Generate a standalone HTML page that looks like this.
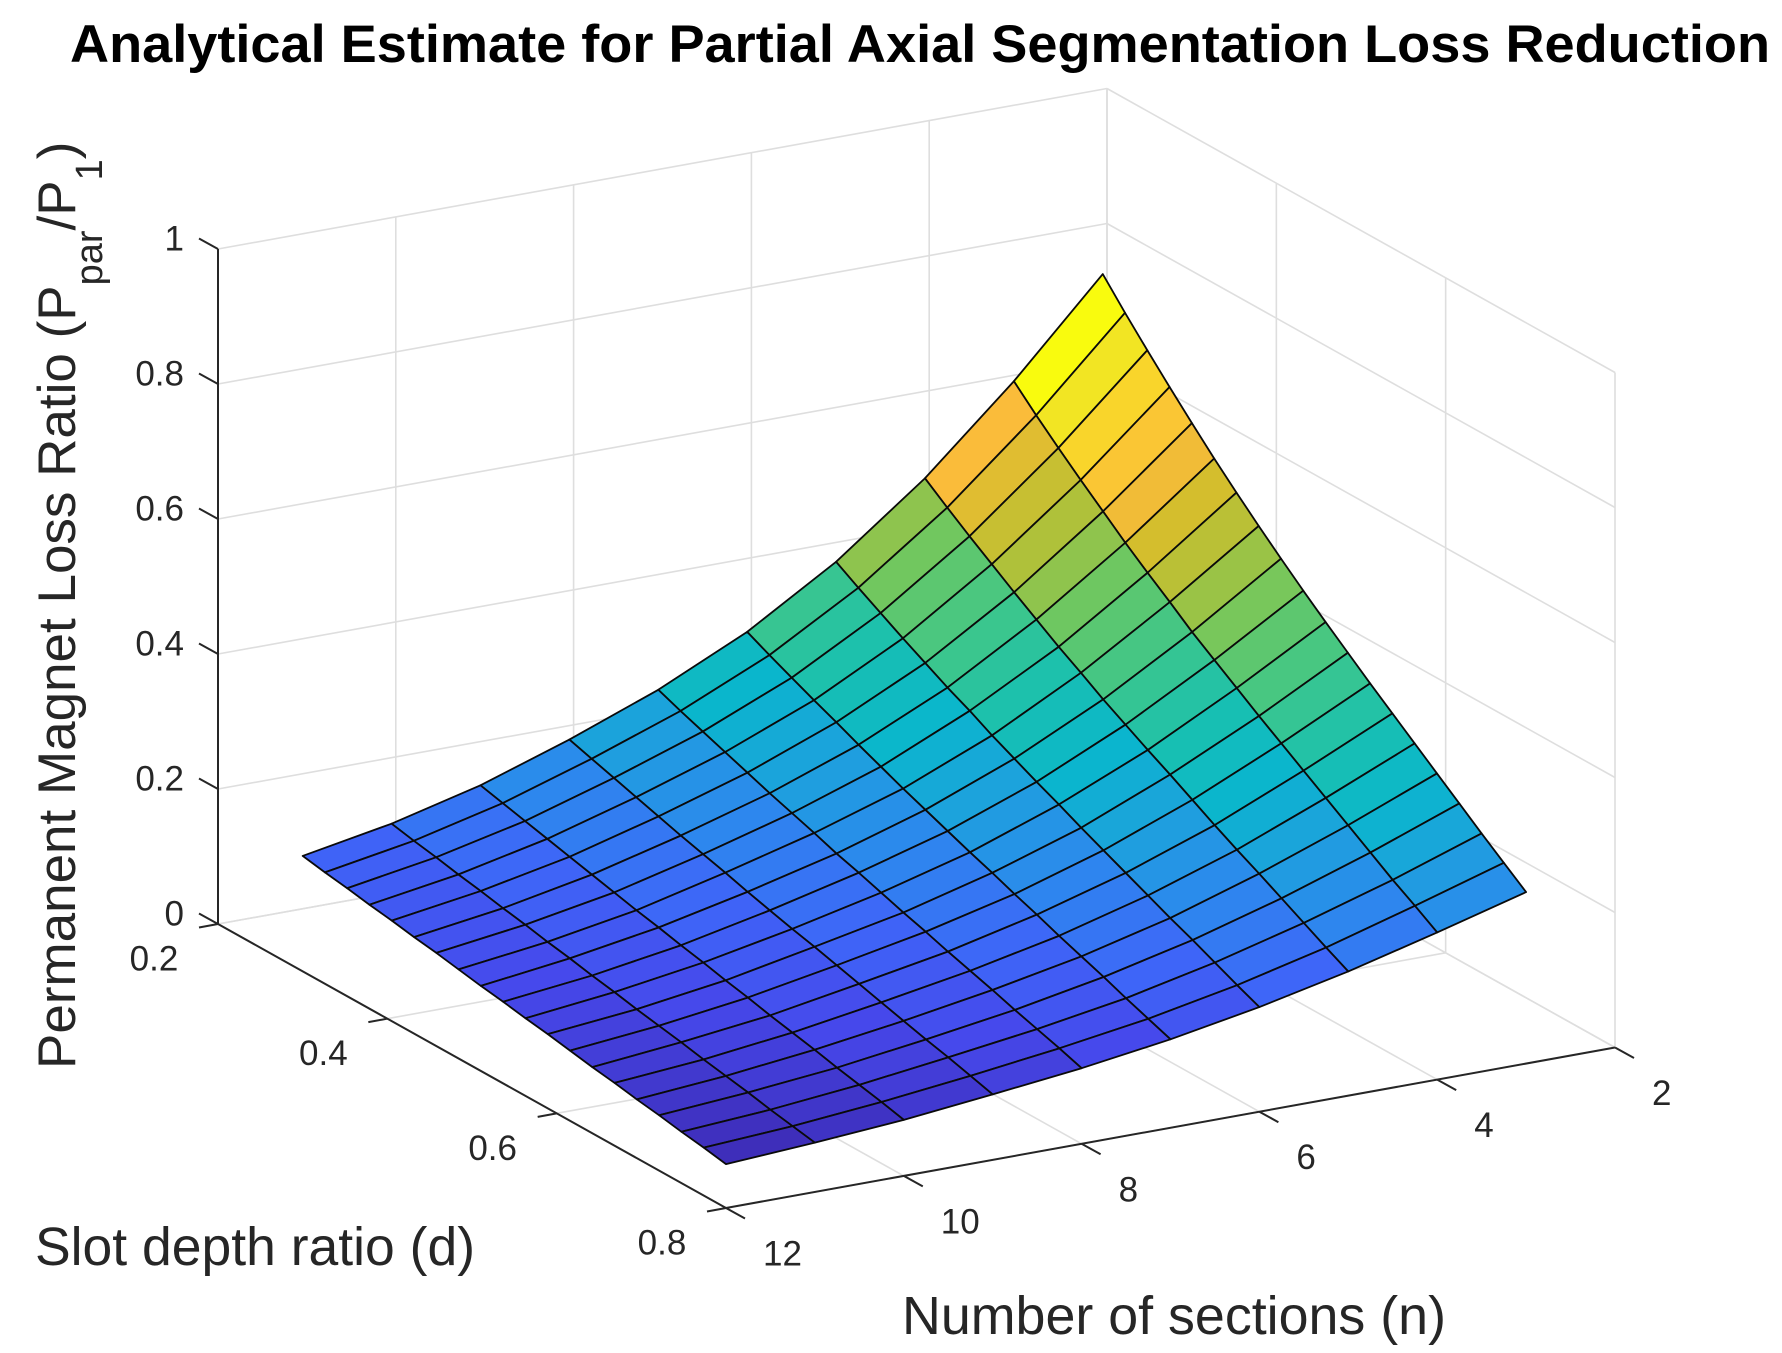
<!DOCTYPE html>
<html>
<head>
<meta charset="utf-8">
<style>
  html, body { margin: 0; padding: 0; background: #ffffff; }
  svg { display: block; }
  text { font-family: "Liberation Sans", "DejaVu Sans", sans-serif; fill: #262626; }
</style>
</head>
<body>
<svg id="chart" xmlns="http://www.w3.org/2000/svg" width="1782" height="1353" viewBox="0 0 1782 1353">
  <rect x="0" y="0" width="1782" height="1353" fill="#ffffff"/>
  <g id="grid"></g>
  <g id="surface"></g>
  <g id="axes"></g>
  <text x="70" y="62" font-size="53" font-weight="bold" style="fill:#000" textLength="1700" lengthAdjust="spacingAndGlyphs">Analytical Estimate for Partial Axial Segmentation Loss Reduction</text>
  <text x="35" y="1265" font-size="54" textLength="440" lengthAdjust="spacingAndGlyphs">Slot depth ratio (d)</text>
  <text x="902" y="1334" font-size="54" textLength="544" lengthAdjust="spacingAndGlyphs">Number of sections (n)</text>
  <text transform="translate(75,1069) rotate(-90)" x="0" y="0" font-size="53">Permanent Magnet Loss Ratio (P<tspan font-size="38" dy="27">par</tspan><tspan dy="-27">/P</tspan><tspan font-size="38" dy="27">1</tspan><tspan dy="-27">)</tspan></text>
</svg>
<script>
// ---- data ----
const nVals = [3, 4, 5, 6, 7, 8, 9, 10, 11, 12];
const dVals = [0.3, 0.3263, 0.3526, 0.3789, 0.4053, 0.4316, 0.4579, 0.4842, 0.5105, 0.5368,
               0.5632, 0.5895, 0.6158, 0.6421, 0.6684, 0.6947, 0.7211, 0.7474, 0.7737, 0.8];
// rows: d, columns: n
const zMatrix = [
  [0.819, 0.684, 0.564, 0.464, 0.384, 0.322, 0.272, 0.228, 0.195, 0.171],
  [0.780, 0.652, 0.539, 0.444, 0.368, 0.309, 0.262, 0.220, 0.188, 0.165],
  [0.743, 0.622, 0.515, 0.425, 0.353, 0.297, 0.252, 0.212, 0.182, 0.160],
  [0.707, 0.593, 0.492, 0.406, 0.338, 0.285, 0.242, 0.204, 0.175, 0.154],
  [0.672, 0.565, 0.469, 0.388, 0.324, 0.273, 0.232, 0.196, 0.169, 0.149],
  [0.638, 0.537, 0.447, 0.370, 0.309, 0.261, 0.222, 0.188, 0.162, 0.143],
  [0.606, 0.511, 0.425, 0.354, 0.295, 0.250, 0.213, 0.180, 0.156, 0.138],
  [0.575, 0.486, 0.405, 0.336, 0.281, 0.239, 0.204, 0.172, 0.149, 0.132],
  [0.545, 0.460, 0.384, 0.320, 0.268, 0.227, 0.194, 0.165, 0.143, 0.126],
  [0.516, 0.437, 0.365, 0.304, 0.255, 0.217, 0.185, 0.157, 0.136, 0.121],
  [0.488, 0.414, 0.346, 0.289, 0.242, 0.206, 0.176, 0.150, 0.130, 0.115],
  [0.461, 0.391, 0.328, 0.273, 0.230, 0.195, 0.168, 0.142, 0.123, 0.110],
  [0.434, 0.369, 0.309, 0.258, 0.217, 0.185, 0.159, 0.135, 0.117, 0.104],
  [0.408, 0.347, 0.290, 0.243, 0.205, 0.174, 0.150, 0.127, 0.111, 0.098],
  [0.382, 0.325, 0.272, 0.228, 0.192, 0.164, 0.141, 0.120, 0.104, 0.093],
  [0.356, 0.303, 0.255, 0.213, 0.180, 0.154, 0.132, 0.113, 0.098, 0.087],
  [0.330, 0.281, 0.237, 0.199, 0.168, 0.143, 0.123, 0.105, 0.092, 0.082],
  [0.304, 0.259, 0.219, 0.184, 0.155, 0.133, 0.115, 0.098, 0.085, 0.076],
  [0.279, 0.239, 0.201, 0.169, 0.143, 0.123, 0.106, 0.091, 0.079, 0.071],
  [0.254, 0.218, 0.184, 0.155, 0.131, 0.112, 0.097, 0.083, 0.073, 0.065]
];
const nTicks = [2, 4, 6, 8, 10, 12];
const nTickLabels = ["2", "4", "6", "8", "10", "12"];
const dTicks = [0.2, 0.4, 0.6, 0.8];
const dTickLabels = ["0.2", "0.4", "0.6", "0.8"];
const zTicks = [0, 0.2, 0.4, 0.6, 0.8, 1];
const zTickLabels = ["0", "0.2", "0.4", "0.6", "0.8", "1"];

// ---- axis / projection functions ----
const N_MIN = 2, N_MAX = 12, D_MIN = 0.2, D_MAX = 0.8, Z_MIN = 0, Z_MAX = 1;
const ORIGIN_X = 218, ORIGIN_Y = 924;
const D_VEC = [508, 284];
const N_VEC = [889, -160.5];
const Z_LEN = 675;
function projX(n, d, z) {
  return ORIGIN_X + (d - D_MIN) / (D_MAX - D_MIN) * D_VEC[0] + (N_MAX - n) / (N_MAX - N_MIN) * N_VEC[0];
}
function projY(n, d, z) {
  return ORIGIN_Y + (d - D_MIN) / (D_MAX - D_MIN) * D_VEC[1] + (N_MAX - n) / (N_MAX - N_MIN) * N_VEC[1]
         - (z - Z_MIN) / (Z_MAX - Z_MIN) * Z_LEN;
}

// parula-like colormap
const cmapStops = [
  [0.00, [60, 40, 175]], [0.10, [70, 72, 235]], [0.18, [62, 102, 248]], [0.26, [45, 135, 238]],
  [0.33, [30, 160, 222]], [0.40, [10, 182, 205]], [0.47, [25, 192, 176]], [0.54, [60, 198, 140]],
  [0.62, [105, 200, 100]], [0.70, [175, 193, 58]], [0.76, [212, 190, 45]], [0.82, [250, 188, 58]],
  [0.89, [250, 210, 45]], [0.95, [242, 230, 35]], [1.00, [249, 251, 14]]
];
function colorFor(t) {
  t = Math.max(0, Math.min(1, t));
  for (let k = 1; k < cmapStops.length; k++) {
    if (t <= cmapStops[k][0]) {
      const a = cmapStops[k - 1], b = cmapStops[k];
      const f = (t - a[0]) / (b[0] - a[0]);
      const c = a[1].map((v, idx) => Math.round(v + (b[1][idx] - v) * f));
      return "rgb(" + c.join(",") + ")";
    }
  }
  return "rgb(249,251,14)";
}

const SVGNS = "http://www.w3.org/2000/svg";
function line(parent, x1, y1, x2, y2, stroke, w) {
  const l = document.createElementNS(SVGNS, "line");
  l.setAttribute("x1", x1); l.setAttribute("y1", y1);
  l.setAttribute("x2", x2); l.setAttribute("y2", y2);
  l.setAttribute("stroke", stroke); l.setAttribute("stroke-width", w);
  parent.appendChild(l);
  return l;
}

// ---- grid ----
const grid = document.getElementById("grid");
const GRID = "#dedede";
zTicks.forEach(z => {
  const a = line(grid, projX(N_MAX, D_MIN, z), projY(N_MAX, D_MIN, z), projX(N_MIN, D_MIN, z), projY(N_MIN, D_MIN, z), GRID, 1.6);
  
  
  const b = line(grid, projX(N_MIN, D_MIN, z), projY(N_MIN, D_MIN, z), projX(N_MIN, D_MAX, z), projY(N_MIN, D_MAX, z), GRID, 1.6);
  
  
});
nTicks.forEach(n => {
  const a = line(grid, projX(n, D_MIN, Z_MIN), projY(n, D_MIN, Z_MIN), projX(n, D_MIN, Z_MAX), projY(n, D_MIN, Z_MAX), GRID, 1.6);
  
  
  const b = line(grid, projX(n, D_MIN, Z_MIN), projY(n, D_MIN, Z_MIN), projX(n, D_MAX, Z_MIN), projY(n, D_MAX, Z_MIN), GRID, 1.6);
  
  
});
dTicks.forEach(d => {
  const a = line(grid, projX(N_MIN, d, Z_MIN), projY(N_MIN, d, Z_MIN), projX(N_MIN, d, Z_MAX), projY(N_MIN, d, Z_MAX), GRID, 1.6);
  
  
  const b = line(grid, projX(N_MAX, d, Z_MIN), projY(N_MAX, d, Z_MIN), projX(N_MIN, d, Z_MIN), projY(N_MIN, d, Z_MIN), GRID, 1.6);
  
  
});

// ---- surface ----
const surf = document.getElementById("surface");
let zmin = Infinity, zmax = -Infinity;
zMatrix.forEach(r => r.forEach(v => { zmin = Math.min(zmin, v); zmax = Math.max(zmax, v); }));
const faces = [];
for (let i = 0; i < dVals.length - 1; i++) {
  for (let j = 0; j < nVals.length - 1; j++) {
    faces.push([i, j]);
  }
}
faces.sort((a, b) => (a[0] + a[1]) - (b[0] + b[1]));
faces.forEach(([i, j]) => {
  const corners = [[i, j], [i, j + 1], [i + 1, j + 1], [i + 1, j]];
  const pts = corners.map(([r, c]) =>
    projX(nVals[c], dVals[r], zMatrix[r][c]).toFixed(2) + "," + projY(nVals[c], dVals[r], zMatrix[r][c]).toFixed(2)
  ).join(" ");
  const poly = document.createElementNS(SVGNS, "polygon");
  poly.setAttribute("points", pts);
  poly.setAttribute("fill", colorFor((zMatrix[i][j] - zmin) / (zmax - zmin)));
  poly.setAttribute("stroke", "#0a0a0a");
  poly.setAttribute("stroke-width", "1.8");
  poly.setAttribute("stroke-linejoin", "round");
  
  
  surf.appendChild(poly);
});

// ---- axes ----
const axes = document.getElementById("axes");
const AX = "#262626";
const zAxis = line(axes, projX(N_MAX, D_MIN, Z_MIN), projY(N_MAX, D_MIN, Z_MIN), projX(N_MAX, D_MIN, Z_MAX), projY(N_MAX, D_MIN, Z_MAX), AX, 2);


const dAxis = line(axes, projX(N_MAX, D_MIN, Z_MIN), projY(N_MAX, D_MIN, Z_MIN), projX(N_MAX, D_MAX, Z_MIN), projY(N_MAX, D_MAX, Z_MIN), AX, 2);


const nAxis = line(axes, projX(N_MAX, D_MAX, Z_MIN), projY(N_MAX, D_MAX, Z_MIN), projX(N_MIN, D_MAX, Z_MIN), projY(N_MIN, D_MAX, Z_MIN), AX, 2);



function label(txt, x, y, anchor) {
  const t = document.createElementNS(SVGNS, "text");
  t.setAttribute("x", x); t.setAttribute("y", y);
  t.setAttribute("font-size", "35");
  t.setAttribute("text-anchor", anchor);
  t.setAttribute("dominant-baseline", "central");
  t.textContent = txt;
  axes.appendChild(t);
  return t;
}

zTicks.forEach((z, k) => {
  const x = projX(N_MAX, D_MIN, z), y = projY(N_MAX, D_MIN, z);
  const tk = line(axes, x, y, x - 19, y - 10.5, AX, 2);
  
  
  const t = label(zTickLabels[k], 184, y - 10, "end");
  
  
});
dTicks.forEach((d, k) => {
  const x = projX(N_MAX, d, Z_MIN), y = projY(N_MAX, d, Z_MIN);
  const tk = line(axes, x, y, x - 19, y + 3.5, AX, 2);
  
  
  const t = label(dTickLabels[k], x - 64, y + 35, "middle");
  
  
});
nTicks.forEach((n, k) => {
  const x = projX(n, D_MAX, Z_MIN), y = projY(n, D_MAX, Z_MIN);
  const tk = line(axes, x, y, x + 19, y + 10.5, AX, 2);
  
  
  const t = label(nTickLabels[k], x + 37, y + 46, "start");
  
  
});
</script>
</body>
</html>
